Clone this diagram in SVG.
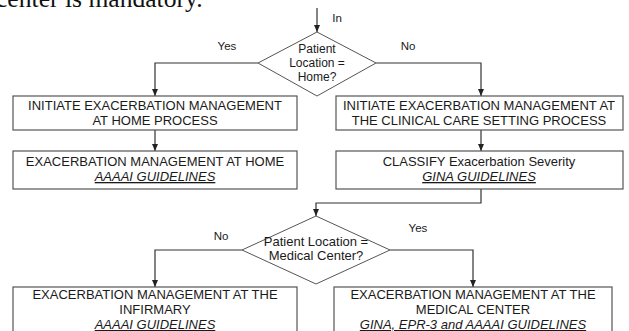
<svg xmlns="http://www.w3.org/2000/svg" width="629" height="331" viewBox="0 0 629 331">
<defs>
<marker id="arr" viewBox="0 0 7 6" refX="7" refY="3" markerWidth="7" markerHeight="6" markerUnits="userSpaceOnUse" orient="auto">
<path d="M0,0 L7,3 L0,6 z" fill="#222"/>
</marker>
<style>
.box{fill:#fff;stroke:#555;stroke-width:1.2}
.dia{fill:#fff;stroke:#555;stroke-width:1}
.t{font-family:"Liberation Sans",Arial,sans-serif;font-size:13px;fill:#1a1a1a;text-anchor:middle}
.d{font-size:12px}
.g{font-style:italic;text-decoration:underline}
.lbl{font-family:"Liberation Sans",Arial,sans-serif;font-size:11.5px;fill:#1a1a1a;text-anchor:middle}
.c{fill:none;stroke:#333;stroke-width:1.2;marker-end:url(#arr)}
</style>
</defs>
<rect width="629" height="331" fill="#fff"/>
<text x="-4" y="7" font-family="'Liberation Serif',serif" font-size="25.6" fill="#111">center is mandatory.</text>

<g id="connectors">
<path class="c" d="M317,8 V32"/>
<path class="c" d="M258,63 H155 V96"/>
<path class="c" d="M376,63 H481 V96"/>
<path class="c" d="M155,130 V151"/>
<path class="c" d="M481,130 V151"/>
<path class="c" d="M481,189 V203 H316 V216"/>
<path class="c" d="M242,250 H155 V287"/>
<path class="c" d="M390,250 H473 V287"/>
<text class="lbl" x="337" y="22">In</text>
<text class="lbl" x="227" y="50">Yes</text>
<text class="lbl" x="408" y="50">No</text>
<text class="lbl" x="221" y="240">No</text>
<text class="lbl" x="418" y="232">Yes</text>
</g>

<g id="decision-home">
<polygon class="dia" points="317,32 376,63 317,96 258,63"/>
<text class="t d" x="317" y="53">Patient</text>
<text class="t d" x="317" y="67">Location =</text>
<text class="t d" x="317" y="81">Home?</text>
</g>

<g id="init-home">
<rect class="box" x="13" y="96" width="284" height="34"/>
<text class="t" x="155" y="110">INITIATE EXACERBATION MANAGEMENT</text>
<text class="t" x="155" y="125">AT HOME PROCESS</text>
</g>

<g id="init-clinical">
<rect class="box" x="336" y="96" width="287" height="34"/>
<text class="t" x="479" y="110">INITIATE EXACERBATION MANAGEMENT AT</text>
<text class="t" x="479" y="125">THE CLINICAL CARE SETTING PROCESS</text>
</g>

<g id="mgmt-home">
<rect class="box" x="13" y="151" width="284" height="38"/>
<text class="t" x="155" y="166">EXACERBATION MANAGEMENT AT HOME</text>
<text class="t g" x="155" y="181">AAAAI GUIDELINES</text>
</g>

<g id="classify">
<rect class="box" x="336" y="151" width="287" height="38"/>
<text class="t" x="479" y="166">CLASSIFY Exacerbation Severity</text>
<text class="t g" x="479" y="181">GINA GUIDELINES</text>
</g>

<g id="decision-medical">
<polygon class="dia" points="316,216 390,250 316,284 242,250"/>
<text class="t" x="316" y="246">Patient Location =</text>
<text class="t" x="316" y="260">Medical Center?</text>
</g>

<g id="mgmt-infirmary">
<rect class="box" x="13" y="287" width="284" height="50"/>
<text class="t" x="155" y="299">EXACERBATION MANAGEMENT AT THE</text>
<text class="t" x="155" y="314">INFIRMARY</text>
<text class="t g" x="155" y="329">AAAAI GUIDELINES</text>
</g>

<g id="mgmt-medical">
<rect class="box" x="334" y="287" width="278" height="50"/>
<text class="t" x="473" y="299">EXACERBATION MANAGEMENT AT THE</text>
<text class="t" x="473" y="314">MEDICAL CENTER</text>
<text class="t g" x="473" y="329">GINA, EPR-3 and AAAAI GUIDELINES</text>
</g>
</svg>
